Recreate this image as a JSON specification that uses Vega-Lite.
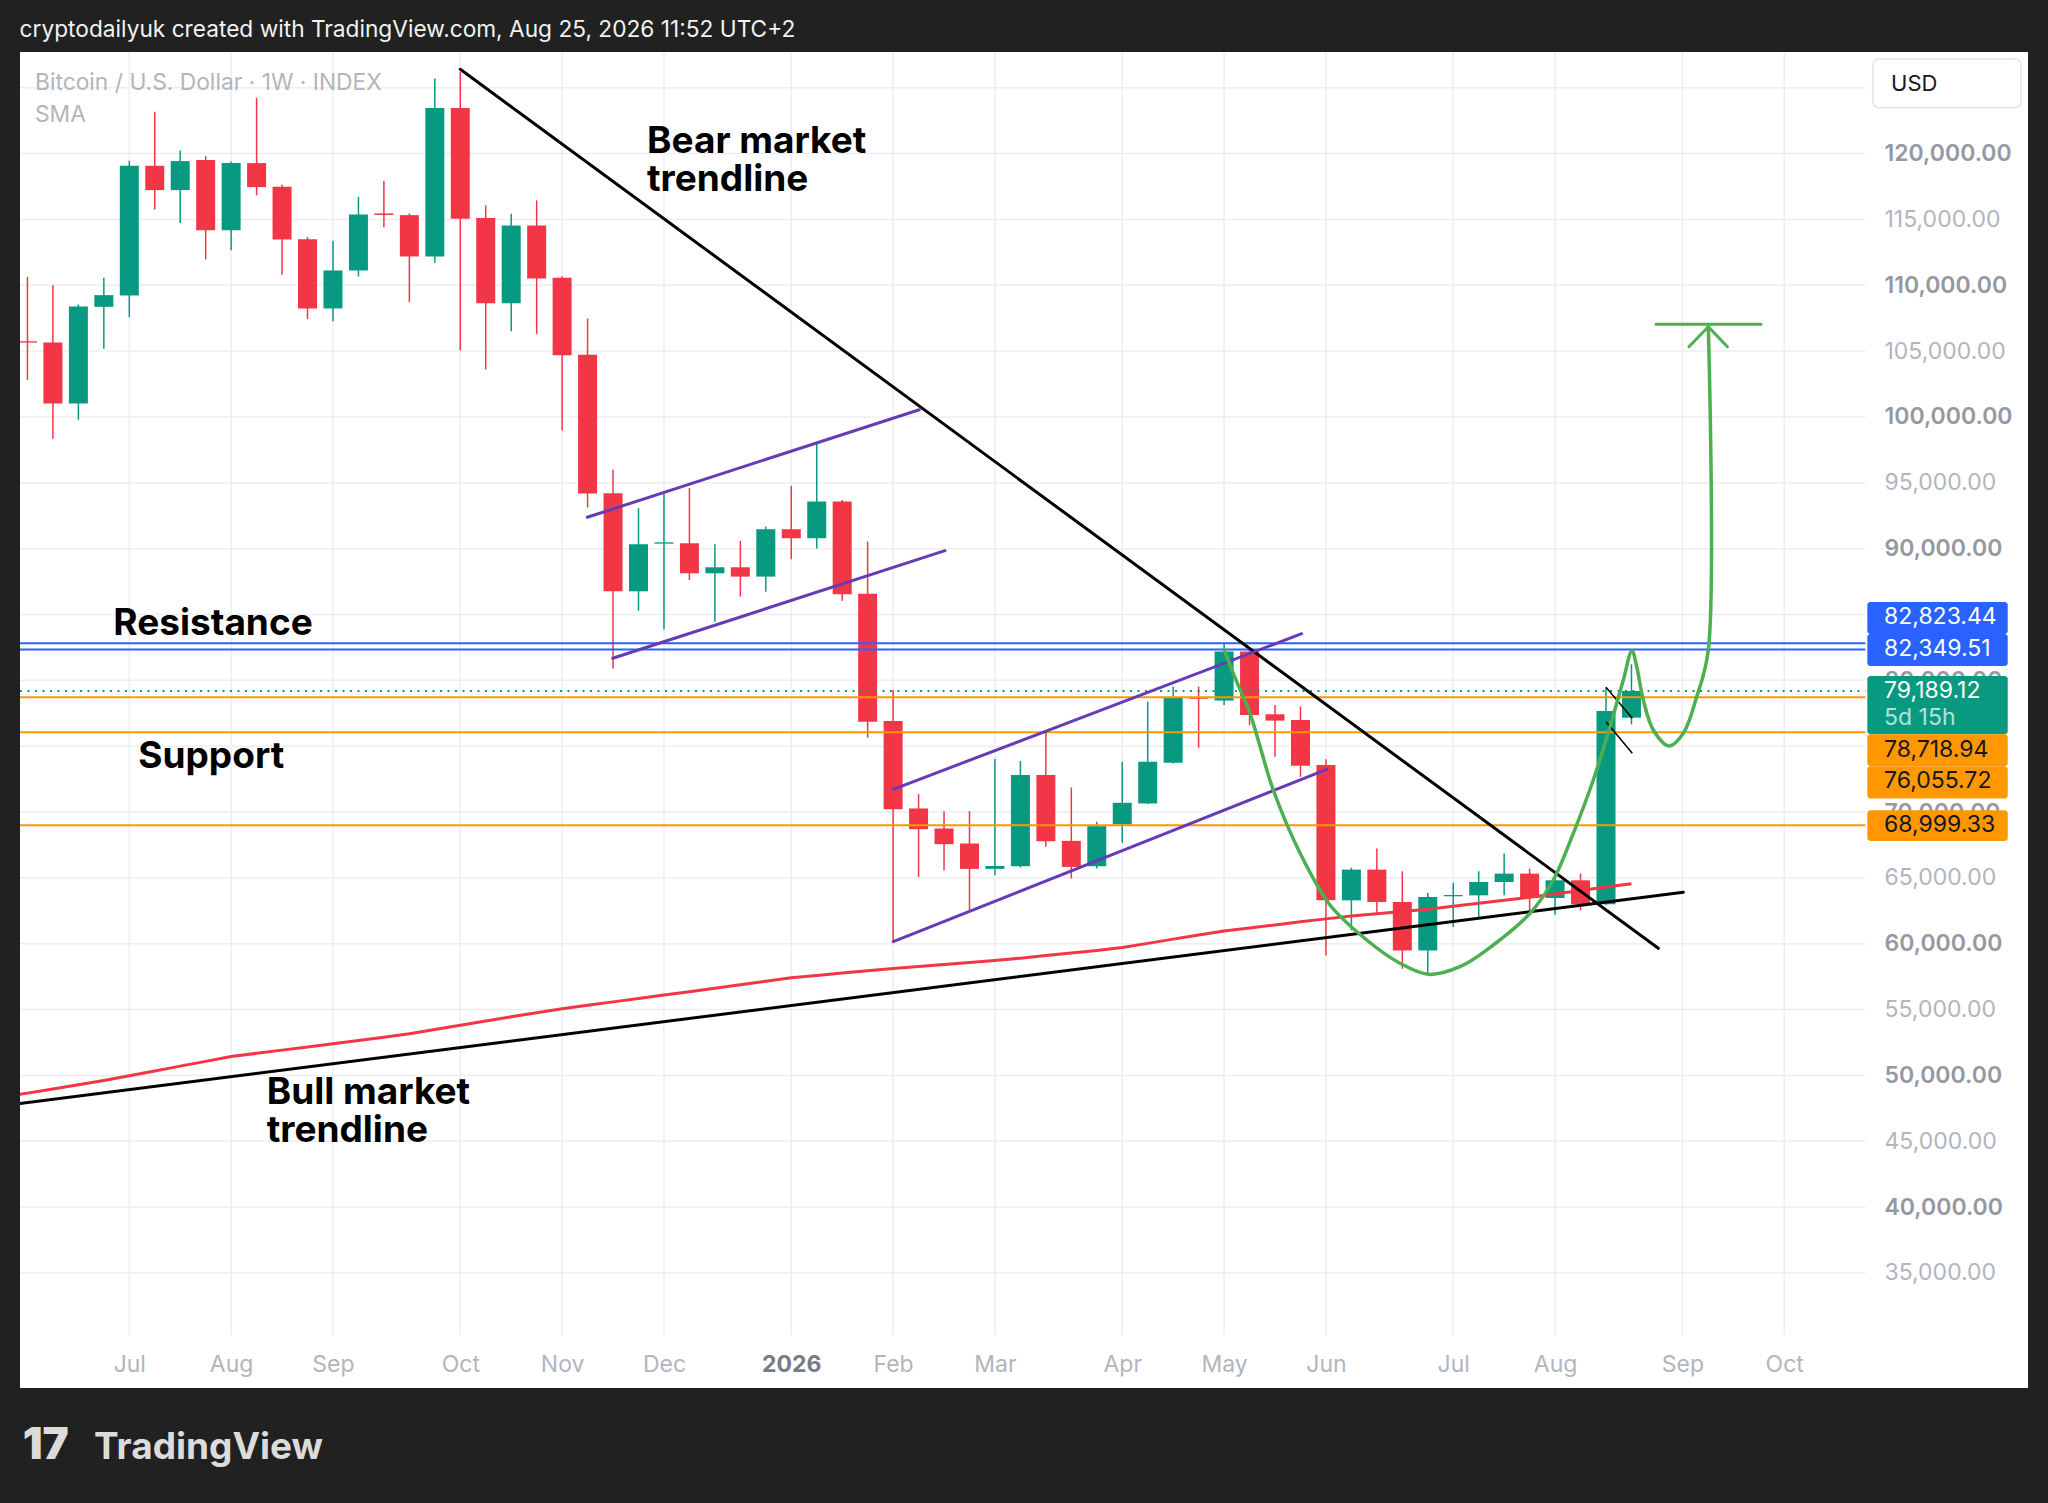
{
  "$schema": "https://vega.github.io/schema/vega-lite/v6.json",
  "width": 2008,
  "height": 1336,
  "autosize": {"type": "none"},
  "padding": {"left": 20, "top": 52, "right": 20, "bottom": 115},
  "background": "#ffffff",
  "config": {
    "view": {"stroke": null},
    "font": "Inter",
    "text": {"font": "Inter"}
  },
  "resolve": {"scale": {"color": "independent"}},
  "datasets": {
    "candles": [
      {"t": "2025-06-09T00:00:00Z", "o": 105750, "h": 110640, "l": 102800, "c": 105650},
      {"t": "2025-06-16T00:00:00Z", "o": 105656, "h": 109998, "l": 98338, "c": 101022},
      {"t": "2025-06-23T00:00:00Z", "o": 101022, "h": 108540, "l": 99781, "c": 108390},
      {"t": "2025-06-30T00:00:00Z", "o": 108365, "h": 110568, "l": 105174, "c": 109251},
      {"t": "2025-07-07T00:00:00Z", "o": 109226, "h": 119455, "l": 107580, "c": 119075},
      {"t": "2025-07-14T00:00:00Z", "o": 119075, "h": 123177, "l": 115758, "c": 117227},
      {"t": "2025-07-21T00:00:00Z", "o": 117227, "h": 120240, "l": 114720, "c": 119430},
      {"t": "2025-07-28T00:00:00Z", "o": 119506, "h": 119809, "l": 111960, "c": 114188},
      {"t": "2025-08-04T00:00:00Z", "o": 114188, "h": 119400, "l": 112669, "c": 119278},
      {"t": "2025-08-11T00:00:00Z", "o": 119278, "h": 124240, "l": 116822, "c": 117455},
      {"t": "2025-08-18T00:00:00Z", "o": 117480, "h": 117632, "l": 110796, "c": 113479},
      {"t": "2025-08-25T00:00:00Z", "o": 113504, "h": 113657, "l": 107428, "c": 108238},
      {"t": "2025-09-01T00:00:00Z", "o": 108238, "h": 113378, "l": 107276, "c": 111125},
      {"t": "2025-09-08T00:00:00Z", "o": 111125, "h": 116720, "l": 110669, "c": 115378},
      {"t": "2025-09-15T00:00:00Z", "o": 115454, "h": 117910, "l": 114416, "c": 115340},
      {"t": "2025-09-22T00:00:00Z", "o": 115327, "h": 115454, "l": 108719, "c": 112188},
      {"t": "2025-09-29T00:00:00Z", "o": 112188, "h": 125709, "l": 111707, "c": 123455},
      {"t": "2025-10-06T00:00:00Z", "o": 123455, "h": 126200, "l": 105048, "c": 115049},
      {"t": "2025-10-13T00:00:00Z", "o": 115100, "h": 116062, "l": 103605, "c": 108643},
      {"t": "2025-10-20T00:00:00Z", "o": 108637, "h": 115431, "l": 106508, "c": 114544},
      {"t": "2025-10-27T00:00:00Z", "o": 114544, "h": 116445, "l": 106305, "c": 110513},
      {"t": "2025-11-03T00:00:00Z", "o": 110563, "h": 110690, "l": 98979, "c": 104682},
      {"t": "2025-11-10T00:00:00Z", "o": 104733, "h": 107471, "l": 93123, "c": 94188},
      {"t": "2025-11-17T00:00:00Z", "o": 94213, "h": 95988, "l": 80900, "c": 86760},
      {"t": "2025-11-24T00:00:00Z", "o": 86760, "h": 93072, "l": 85290, "c": 90334},
      {"t": "2025-12-01T00:00:00Z", "o": 90380, "h": 94213, "l": 83870, "c": 90480},
      {"t": "2025-12-08T00:00:00Z", "o": 90410, "h": 94593, "l": 87622, "c": 88129},
      {"t": "2025-12-15T00:00:00Z", "o": 88129, "h": 90334, "l": 84453, "c": 88586},
      {"t": "2025-12-22T00:00:00Z", "o": 88586, "h": 90588, "l": 86354, "c": 87876},
      {"t": "2025-12-29T00:00:00Z", "o": 87876, "h": 91678, "l": 86734, "c": 91475},
      {"t": "2026-01-05T00:00:00Z", "o": 91475, "h": 94771, "l": 89194, "c": 90791},
      {"t": "2026-01-12T00:00:00Z", "o": 90791, "h": 98016, "l": 90005, "c": 93579},
      {"t": "2026-01-19T00:00:00Z", "o": 93579, "h": 93700, "l": 86050, "c": 86532},
      {"t": "2026-01-26T00:00:00Z", "o": 86583, "h": 90537, "l": 75646, "c": 76864},
      {"t": "2026-02-02T00:00:00Z", "o": 76914, "h": 79273, "l": 60126, "c": 70219},
      {"t": "2026-02-09T00:00:00Z", "o": 70270, "h": 71360, "l": 65071, "c": 68698},
      {"t": "2026-02-16T00:00:00Z", "o": 68749, "h": 70067, "l": 65578, "c": 67556},
      {"t": "2026-02-23T00:00:00Z", "o": 67607, "h": 70067, "l": 62535, "c": 65680},
      {"t": "2026-03-02T00:00:00Z", "o": 65680, "h": 74023, "l": 65198, "c": 65900},
      {"t": "2026-03-09T00:00:00Z", "o": 65883, "h": 73871, "l": 65781, "c": 72806},
      {"t": "2026-03-16T00:00:00Z", "o": 72806, "h": 76103, "l": 67354, "c": 67785},
      {"t": "2026-03-23T00:00:00Z", "o": 67810, "h": 71867, "l": 64945, "c": 65832},
      {"t": "2026-03-30T00:00:00Z", "o": 65883, "h": 69256, "l": 65705, "c": 68926},
      {"t": "2026-04-06T00:00:00Z", "o": 69053, "h": 73820, "l": 67658, "c": 70701},
      {"t": "2026-04-13T00:00:00Z", "o": 70650, "h": 78385, "l": 70599, "c": 73820},
      {"t": "2026-04-20T00:00:00Z", "o": 73744, "h": 79526, "l": 73693, "c": 78715},
      {"t": "2026-04-27T00:00:00Z", "o": 78715, "h": 79526, "l": 74885, "c": 78600},
      {"t": "2026-05-04T00:00:00Z", "o": 78461, "h": 82823, "l": 78131, "c": 82189},
      {"t": "2026-05-11T00:00:00Z", "o": 82189, "h": 82367, "l": 76610, "c": 77371},
      {"t": "2026-05-18T00:00:00Z", "o": 77422, "h": 78131, "l": 74201, "c": 76940},
      {"t": "2026-05-25T00:00:00Z", "o": 76990, "h": 78005, "l": 72679, "c": 73516},
      {"t": "2026-06-01T00:00:00Z", "o": 73563, "h": 73998, "l": 59107, "c": 63292},
      {"t": "2026-06-08T00:00:00Z", "o": 63292, "h": 65777, "l": 61010, "c": 65625},
      {"t": "2026-06-15T00:00:00Z", "o": 65625, "h": 67223, "l": 62278, "c": 63165},
      {"t": "2026-06-22T00:00:00Z", "o": 63165, "h": 65498, "l": 58093, "c": 59488},
      {"t": "2026-06-29T00:00:00Z", "o": 59488, "h": 63875, "l": 57712, "c": 63545},
      {"t": "2026-07-06T00:00:00Z", "o": 63600, "h": 64636, "l": 61263, "c": 63700},
      {"t": "2026-07-13T00:00:00Z", "o": 63672, "h": 65498, "l": 61897, "c": 64687},
      {"t": "2026-07-20T00:00:00Z", "o": 64687, "h": 66842, "l": 63672, "c": 65321},
      {"t": "2026-07-27T00:00:00Z", "o": 65321, "h": 65701, "l": 62531, "c": 63469},
      {"t": "2026-08-03T00:00:00Z", "o": 63469, "h": 65321, "l": 62201, "c": 64814},
      {"t": "2026-08-10T00:00:00Z", "o": 64814, "h": 65321, "l": 62531, "c": 62988},
      {"t": "2026-08-17T00:00:00Z", "o": 62988, "h": 79472, "l": 62912, "c": 77671},
      {"t": "2026-08-24T00:00:00Z", "o": 77164, "h": 81221, "l": 76657, "c": 79189.12}
    ],
    "sma": [
      {"t": "2025-06-02T00:00:00Z", "v": 48334},
      {"t": "2025-06-09T00:00:00Z", "v": 48653},
      {"t": "2025-06-16T00:00:00Z", "v": 48970},
      {"t": "2025-06-23T00:00:00Z", "v": 49290},
      {"t": "2025-06-30T00:00:00Z", "v": 49614},
      {"t": "2025-07-07T00:00:00Z", "v": 49977},
      {"t": "2025-07-14T00:00:00Z", "v": 50340},
      {"t": "2025-07-21T00:00:00Z", "v": 50702},
      {"t": "2025-07-28T00:00:00Z", "v": 51065},
      {"t": "2025-08-04T00:00:00Z", "v": 51427},
      {"t": "2025-08-11T00:00:00Z", "v": 51678},
      {"t": "2025-08-18T00:00:00Z", "v": 51918},
      {"t": "2025-08-25T00:00:00Z", "v": 52157},
      {"t": "2025-09-01T00:00:00Z", "v": 52397},
      {"t": "2025-09-08T00:00:00Z", "v": 52649},
      {"t": "2025-09-15T00:00:00Z", "v": 52901},
      {"t": "2025-09-22T00:00:00Z", "v": 53154},
      {"t": "2025-09-29T00:00:00Z", "v": 53480},
      {"t": "2025-10-06T00:00:00Z", "v": 53810},
      {"t": "2025-10-13T00:00:00Z", "v": 54134},
      {"t": "2025-10-20T00:00:00Z", "v": 54445},
      {"t": "2025-10-27T00:00:00Z", "v": 54756},
      {"t": "2025-11-03T00:00:00Z", "v": 55066},
      {"t": "2025-11-10T00:00:00Z", "v": 55325},
      {"t": "2025-11-17T00:00:00Z", "v": 55582},
      {"t": "2025-11-24T00:00:00Z", "v": 55840},
      {"t": "2025-12-01T00:00:00Z", "v": 56096},
      {"t": "2025-12-08T00:00:00Z", "v": 56350},
      {"t": "2025-12-15T00:00:00Z", "v": 56613},
      {"t": "2025-12-22T00:00:00Z", "v": 56878},
      {"t": "2025-12-29T00:00:00Z", "v": 57144},
      {"t": "2026-01-05T00:00:00Z", "v": 57410},
      {"t": "2026-01-12T00:00:00Z", "v": 57594},
      {"t": "2026-01-19T00:00:00Z", "v": 57768},
      {"t": "2026-01-26T00:00:00Z", "v": 57942},
      {"t": "2026-02-02T00:00:00Z", "v": 58116},
      {"t": "2026-02-09T00:00:00Z", "v": 58266},
      {"t": "2026-02-16T00:00:00Z", "v": 58417},
      {"t": "2026-02-23T00:00:00Z", "v": 58567},
      {"t": "2026-03-02T00:00:00Z", "v": 58718},
      {"t": "2026-03-09T00:00:00Z", "v": 58903},
      {"t": "2026-03-16T00:00:00Z", "v": 59097},
      {"t": "2026-03-23T00:00:00Z", "v": 59291},
      {"t": "2026-03-30T00:00:00Z", "v": 59484},
      {"t": "2026-04-06T00:00:00Z", "v": 59705},
      {"t": "2026-04-13T00:00:00Z", "v": 60026},
      {"t": "2026-04-20T00:00:00Z", "v": 60347},
      {"t": "2026-04-27T00:00:00Z", "v": 60668},
      {"t": "2026-05-04T00:00:00Z", "v": 60964},
      {"t": "2026-05-11T00:00:00Z", "v": 61196},
      {"t": "2026-05-18T00:00:00Z", "v": 61428},
      {"t": "2026-05-25T00:00:00Z", "v": 61660},
      {"t": "2026-06-01T00:00:00Z", "v": 61885},
      {"t": "2026-06-08T00:00:00Z", "v": 62110},
      {"t": "2026-06-15T00:00:00Z", "v": 62274},
      {"t": "2026-06-22T00:00:00Z", "v": 62449},
      {"t": "2026-06-29T00:00:00Z", "v": 62624},
      {"t": "2026-07-06T00:00:00Z", "v": 62846},
      {"t": "2026-07-13T00:00:00Z", "v": 63071},
      {"t": "2026-07-20T00:00:00Z", "v": 63296},
      {"t": "2026-07-27T00:00:00Z", "v": 63520},
      {"t": "2026-08-03T00:00:00Z", "v": 63775},
      {"t": "2026-08-10T00:00:00Z", "v": 64037},
      {"t": "2026-08-17T00:00:00Z", "v": 64299},
      {"t": "2026-08-24T00:00:00Z", "v": 64560}
    ]
  },
  "layer": [
    {
      "data": {
        "values": [
          {"v": 35000}, {"v": 40000}, {"v": 45000}, {"v": 50000}, {"v": 55000}, {"v": 60000}, {"v": 65000},
          {"v": 70000}, {"v": 75000}, {"v": 80000}, {"v": 85000}, {"v": 90000}, {"v": 95000}, {"v": 100000},
          {"v": 105000}, {"v": 110000}, {"v": 115000}, {"v": 120000}, {"v": 125000}
        ]
      },
      "mark": {"type": "rule", "color": "#eceef2", "strokeWidth": 1.5},
      "encoding": {
        "x": {"datum": {"year": 2025, "month": 6, "date": 6, "hours": 22, "minutes": 48, "utc": true}, "type": "temporal"},
        "x2": {"datum": {"year": 2026, "month": 10, "date": 27, "hours": 7, "minutes": 41, "utc": true}},
        "y": {"field": "v", "type": "quantitative"}
      }
    },
    {
      "data": {
        "values": [
          {"m": "2025-07-07T00:00:00Z"}, {"m": "2025-08-04T00:00:00Z"}, {"m": "2025-09-01T00:00:00Z"},
          {"m": "2025-10-06T00:00:00Z"}, {"m": "2025-11-03T00:00:00Z"}, {"m": "2025-12-01T00:00:00Z"},
          {"m": "2026-01-05T00:00:00Z"}, {"m": "2026-02-02T00:00:00Z"}, {"m": "2026-03-02T00:00:00Z"},
          {"m": "2026-04-06T00:00:00Z"}, {"m": "2026-05-04T00:00:00Z"}, {"m": "2026-06-01T00:00:00Z"},
          {"m": "2026-07-06T00:00:00Z"}, {"m": "2026-08-03T00:00:00Z"}, {"m": "2026-09-07T00:00:00Z"},
          {"m": "2026-10-05T00:00:00Z"}
        ]
      },
      "mark": {"type": "rule", "color": "#eceef2", "strokeWidth": 1.5},
      "encoding": {
        "x": {"field": "m", "type": "temporal"},
        "y": {"datum": 30285, "type": "quantitative"},
        "y2": {"datum": 127715}
      }
    },
    {
      "data": {"name": "candles"},
      "mark": {"type": "rule", "strokeWidth": 1.5},
      "encoding": {
        "x": {
          "field": "t",
          "type": "temporal",
          "scale": {
            "type": "utc",
            "domain": [
              {"year": 2025, "month": 6, "date": 6, "hours": 22, "minutes": 48, "utc": true},
              {"year": 2026, "month": 10, "date": 27, "hours": 7, "minutes": 41, "utc": true}
            ],
            "range": [0, 1845.4]
          },
          "axis": {
            "title": null,
            "values": [
              {"year": 2025, "month": 7, "date": 7, "utc": true},
              {"year": 2025, "month": 8, "date": 4, "utc": true},
              {"year": 2025, "month": 9, "date": 1, "utc": true},
              {"year": 2025, "month": 10, "date": 6, "utc": true},
              {"year": 2025, "month": 11, "date": 3, "utc": true},
              {"year": 2025, "month": 12, "date": 1, "utc": true},
              {"year": 2026, "month": 1, "date": 5, "utc": true},
              {"year": 2026, "month": 2, "date": 2, "utc": true},
              {"year": 2026, "month": 3, "date": 2, "utc": true},
              {"year": 2026, "month": 4, "date": 6, "utc": true},
              {"year": 2026, "month": 5, "date": 4, "utc": true},
              {"year": 2026, "month": 6, "date": 1, "utc": true},
              {"year": 2026, "month": 7, "date": 6, "utc": true},
              {"year": 2026, "month": 8, "date": 3, "utc": true},
              {"year": 2026, "month": 9, "date": 7, "utc": true},
              {"year": 2026, "month": 10, "date": 5, "utc": true}
            ],
            "labelExpr": "utcmonth(datum.value) === 0 ? utcFormat(datum.value, '%Y') : utcFormat(datum.value, '%b')",
            "labelFont": "Inter",
            "labelFontSize": 23,
            "labelColor": {"condition": {"test": "utcmonth(datum.value) === 0", "value": "#787b86"}, "value": "#b2b5be"},
            "labelFontWeight": {"condition": {"test": "utcmonth(datum.value) === 0", "value": "bold"}, "value": "normal"},
            "labelBaseline": "alphabetic",
            "labelAlign": "center",
            "labelPadding": -17,
            "labelOverlap": false,
            "labelFlush": false,
            "ticks": false,
            "tickSize": 0,
            "domain": false,
            "grid": false
          }
        },
        "y": {
          "field": "l",
          "type": "quantitative",
          "scale": {"domain": [30285, 127715], "range": [1283, 0], "nice": false, "zero": false},
          "axis": {
            "orient": "right",
            "title": null,
            "values": [35000, 40000, 45000, 50000, 55000, 60000, 65000, 70000, 80000, 85000, 90000, 95000, 100000, 105000, 110000, 115000, 120000],
            "format": ",.2f",
            "labelFont": "Inter",
            "labelFontSize": 23,
            "labelColor": {"condition": {"test": "datum.value % 10000 === 0", "value": "#9598a1"}, "value": "#b2b5be"},
            "labelFontWeight": {"condition": {"test": "datum.value % 10000 === 0", "value": 600}, "value": "normal"},
            "labelAlign": "left",
            "labelBaseline": "middle",
            "labelPadding": -144,
            "labelOverlap": false,
            "labelBound": false,
            "ticks": false,
            "tickSize": 0,
            "domain": false,
            "grid": false
          }
        },
        "y2": {"field": "h"},
        "color": {"condition": {"test": "datum.c >= datum.o", "value": "#089981"}, "value": "#f23645"}
      }
    },
    {
      "data": {"name": "candles"},
      "mark": {"type": "rule", "strokeWidth": 19, "strokeCap": "butt"},
      "encoding": {
        "x": {"field": "t", "type": "temporal"},
        "y": {"field": "o", "type": "quantitative"},
        "y2": {"field": "c"},
        "color": {"condition": {"test": "datum.c >= datum.o", "value": "#089981"}, "value": "#f23645"}
      }
    },
    {
      "data": {"name": "sma"},
      "mark": {"type": "line", "color": "#f23645", "strokeWidth": 3, "clip": true},
      "encoding": {
        "x": {"field": "t", "type": "temporal"},
        "y": {"field": "v", "type": "quantitative"}
      }
    },
    {
      "data": {
        "values": [
          {"p": 82823.44, "k": "res"},
          {"p": 82349.51, "k": "res"},
          {"p": 78718.94, "k": "sup"},
          {"p": 76055.72, "k": "sup"},
          {"p": 68999.33, "k": "sup"}
        ]
      },
      "mark": {"type": "rule", "strokeWidth": 2},
      "encoding": {
        "x": {"datum": {"year": 2025, "month": 6, "date": 6, "hours": 22, "minutes": 48, "utc": true}, "type": "temporal"},
        "x2": {"datum": {"year": 2026, "month": 10, "date": 27, "hours": 7, "minutes": 41, "utc": true}},
        "y": {"field": "p", "type": "quantitative"},
        "color": {"field": "k", "type": "nominal", "scale": {"domain": ["res", "sup"], "range": ["#2962ff", "#ff9800"]}, "legend": null}
      }
    },
    {
      "data": {"values": [{"p": 79189.12}]},
      "mark": {"type": "rule", "strokeWidth": 2, "color": "#089981", "strokeDash": [2, 5.5]},
      "encoding": {
        "x": {"datum": {"year": 2025, "month": 6, "date": 6, "hours": 22, "minutes": 48, "utc": true}, "type": "temporal"},
        "x2": {"datum": {"year": 2026, "month": 10, "date": 27, "hours": 7, "minutes": 41, "utc": true}},
        "y": {"field": "p", "type": "quantitative"}
      }
    },
    {
      "data": {
        "values": [
          {"g": "bull", "t1": "2025-06-06T20:10:00Z", "p1": 47864, "t2": "2026-09-07T06:14:00Z", "p2": 63911},
          {"g": "bear", "t1": "2025-10-06T00:00:00Z", "p1": 126400, "t2": "2026-08-31T09:07:00Z", "p2": 59651},
          {"g": "channel", "t1": "2025-11-09T22:05:00Z", "p1": 92381, "t2": "2026-02-09T04:48:00Z", "p2": 100550},
          {"g": "channel", "t1": "2025-11-16T21:36:00Z", "p1": 81673, "t2": "2026-02-16T06:29:00Z", "p2": 89845},
          {"g": "channel", "t1": "2026-02-02T01:12:00Z", "p1": 71725, "t2": "2026-05-25T08:10:00Z", "p2": 83542},
          {"g": "channel", "t1": "2026-02-02T01:12:00Z", "p1": 60152, "t2": "2026-06-01T05:02:00Z", "p2": 73243},
          {"g": "target", "t1": "2026-09-14T03:07:00Z", "p1": 106855, "t2": "2026-09-08T19:12:00Z", "p2": 105336},
          {"g": "target", "t1": "2026-09-14T03:07:00Z", "p1": 106855, "t2": "2026-09-19T09:07:00Z", "p2": 105336},
          {"g": "target", "t1": "2026-08-30T18:00:00Z", "p1": 107037, "t2": "2026-09-28T14:53:00Z", "p2": 107037}
        ]
      },
      "mark": {"type": "rule", "strokeWidth": 3, "strokeCap": "round", "clip": true},
      "encoding": {
        "x": {"field": "t1", "type": "temporal"},
        "x2": {"field": "t2"},
        "y": {"field": "p1", "type": "quantitative"},
        "y2": {"field": "p2"},
        "color": {
          "field": "g",
          "type": "nominal",
          "scale": {"domain": ["bull", "bear", "channel", "target"], "range": ["#000000", "#000000", "#673ab7", "#4caf50"]},
          "legend": null
        }
      }
    },
    {
      "data": {
        "values": [
          {"t1": "2026-08-17T00:00:00Z", "p1": 79471, "t2": "2026-08-24T05:31:00Z", "p2": 77117},
          {"t1": "2026-08-17T00:00:00Z", "p1": 76858, "t2": "2026-08-24T05:31:00Z", "p2": 74459}
        ]
      },
      "mark": {"type": "rule", "strokeWidth": 1.5, "color": "#000000"},
      "encoding": {
        "x": {"field": "t1", "type": "temporal"},
        "x2": {"field": "t2"},
        "y": {"field": "p1", "type": "quantitative"},
        "y2": {"field": "p2"}
      }
    },
    {
      "data": {
        "values": [
          {"i": 1, "t": "2026-05-04T01:26:00Z", "p": 82303},
          {"i": 2, "t": "2026-05-07T06:43:00Z", "p": 80025},
          {"i": 3, "t": "2026-05-11T02:53:00Z", "p": 77496},
          {"i": 4, "t": "2026-05-17T12:43:00Z", "p": 71672},
          {"i": 5, "t": "2026-05-24T20:53:00Z", "p": 66889},
          {"i": 6, "t": "2026-06-02T02:53:00Z", "p": 62939},
          {"i": 7, "t": "2026-06-12T05:02:00Z", "p": 60281},
          {"i": 8, "t": "2026-06-21T08:53:00Z", "p": 58511},
          {"i": 9, "t": "2026-06-29T03:36:00Z", "p": 57676},
          {"i": 10, "t": "2026-07-07T20:38:00Z", "p": 58253},
          {"i": 11, "t": "2026-07-17T00:29:00Z", "p": 59901},
          {"i": 12, "t": "2026-07-27T02:38:00Z", "p": 62309},
          {"i": 13, "t": "2026-08-02T12:14:00Z", "p": 64838},
          {"i": 14, "t": "2026-08-08T00:14:00Z", "p": 68384},
          {"i": 15, "t": "2026-08-13T12:14:00Z", "p": 72431},
          {"i": 16, "t": "2026-08-18T02:24:00Z", "p": 76478},
          {"i": 17, "t": "2026-08-21T18:14:00Z", "p": 80025},
          {"i": 18, "t": "2026-08-24T03:36:00Z", "p": 82250},
          {"i": 19, "t": "2026-08-25T10:34:00Z", "p": 81035},
          {"i": 20, "t": "2026-08-27T06:14:00Z", "p": 78506},
          {"i": 21, "t": "2026-08-30T00:14:00Z", "p": 76228},
          {"i": 22, "t": "2026-09-03T09:50:00Z", "p": 75013},
          {"i": 23, "t": "2026-09-07T06:14:00Z", "p": 75978},
          {"i": 24, "t": "2026-09-10T22:34:00Z", "p": 78757},
          {"i": 25, "t": "2026-09-14T03:07:00Z", "p": 82303},
          {"i": 26, "t": "2026-09-14T03:07:00Z", "p": 106855}
        ]
      },
      "mark": {"type": "line", "color": "#4caf50", "strokeWidth": 3.5, "strokeCap": "round", "strokeJoin": "round", "interpolate": "catmull-rom"},
      "encoding": {
        "x": {"field": "t", "type": "temporal"},
        "y": {"field": "p", "type": "quantitative"},
        "order": {"field": "i", "type": "quantitative"}
      }
    },
    {
      "data": {
        "values": [
          {"txt": ["Bear market", "trendline"], "t": "2025-11-26T08:10:00Z", "p": 120023},
          {"txt": ["Resistance"], "t": "2025-07-02T14:24:00Z", "p": 83473},
          {"txt": ["Support"], "t": "2025-07-09T11:17:00Z", "p": 73380},
          {"txt": ["Bull market", "trendline"], "t": "2025-08-13T18:43:00Z", "p": 47804}
        ]
      },
      "mark": {"type": "text", "font": "Inter", "fontSize": 37, "fontWeight": "bold", "color": "#000000", "align": "left", "baseline": "alphabetic", "lineHeight": 37.5},
      "encoding": {
        "x": {"field": "t", "type": "temporal"},
        "y": {"field": "p", "type": "quantitative"},
        "text": {"field": "txt"}
      }
    },
    {
      "data": {
        "values": [
          {"txt": ["Bitcoin / U.S. Dollar · 1W · INDEX", "SMA"], "t": "2025-06-11T01:41:00Z", "p": 124830}
        ]
      },
      "mark": {"type": "text", "font": "Inter", "fontSize": 22.8, "color": "#b2b5be", "align": "left", "baseline": "alphabetic", "lineHeight": 31.7},
      "encoding": {
        "x": {"field": "t", "type": "temporal"},
        "y": {"field": "p", "type": "quantitative"},
        "text": {"field": "txt"}
      }
    },
    {
      "data": {
        "values": [
          {"k": "res", "top": 85953, "bot": 83523},
          {"k": "res", "top": 83523, "bot": 81093},
          {"k": "last", "top": 80334, "bot": 75907},
          {"k": "sup", "top": 75907, "bot": 73478},
          {"k": "sup", "top": 73478, "bot": 71025},
          {"k": "sup", "top": 70137, "bot": 67806}
        ]
      },
      "mark": {"type": "rect", "cornerRadius": 3},
      "encoding": {
        "x": {"datum": {"year": 2026, "month": 10, "date": 27, "hours": 20, "minutes": 24, "utc": true}, "type": "temporal"},
        "x2": {"datum": {"year": 2026, "month": 12, "date": 5, "hours": 10, "minutes": 48, "utc": true}},
        "y": {"field": "top", "type": "quantitative"},
        "y2": {"field": "bot"},
        "color": {"field": "k", "type": "nominal", "scale": {"domain": ["res", "last", "sup"], "range": ["#2962ff", "#089981", "#ff9800"]}, "legend": null}
      }
    },
    {
      "data": {
        "values": [
          {"k": "res", "label": "82,823.44", "ty": 84814},
          {"k": "res", "label": "82,349.51", "ty": 82415},
          {"k": "last", "label": "79,189.12", "ty": 79172},
          {"k": "sup", "label": "78,718.94", "ty": 74693},
          {"k": "sup", "label": "76,055.72", "ty": 72339},
          {"k": "sup", "label": "68,999.33", "ty": 69051}
        ]
      },
      "mark": {"type": "text", "font": "Inter", "fontSize": 23, "align": "left", "baseline": "middle"},
      "encoding": {
        "x": {"datum": {"year": 2026, "month": 11, "date": 1, "hours": 10, "minutes": 34, "utc": true}, "type": "temporal"},
        "y": {"field": "ty", "type": "quantitative"},
        "text": {"field": "label"},
        "color": {"field": "k", "type": "nominal", "scale": {"domain": ["res", "last", "sup"], "range": ["#ffffff", "#ffffff", "#131722"]}, "legend": null}
      }
    },
    {
      "data": {"values": [{"label": "5d 15h", "ty": 77145}]},
      "mark": {"type": "text", "font": "Inter", "fontSize": 23, "align": "left", "baseline": "middle", "color": "#ffffff", "opacity": 0.7},
      "encoding": {
        "x": {"datum": {"year": 2026, "month": 11, "date": 1, "hours": 10, "minutes": 34, "utc": true}, "type": "temporal"},
        "y": {"field": "ty", "type": "quantitative"},
        "text": {"field": "label"}
      }
    },
    {
      "data": {"values": [{"top": 127184, "bot": 123486}]},
      "mark": {"type": "rect", "fill": "#ffffff", "stroke": "#e0e3eb", "strokeWidth": 1.5, "cornerRadius": 6},
      "encoding": {
        "x": {"datum": {"year": 2026, "month": 10, "date": 29, "hours": 9, "minutes": 50, "utc": true}, "type": "temporal"},
        "x2": {"datum": {"year": 2026, "month": 12, "date": 9, "hours": 2, "minutes": 24, "utc": true}},
        "y": {"field": "top", "type": "quantitative"},
        "y2": {"field": "bot"}
      }
    },
    {
      "data": {"values": [{"txt": "USD", "p": 124777}]},
      "mark": {"type": "text", "font": "Inter", "fontSize": 22, "color": "#131722", "align": "left", "baseline": "alphabetic"},
      "encoding": {
        "x": {"datum": {"year": 2026, "month": 11, "date": 3, "hours": 8, "minutes": 53, "utc": true}, "type": "temporal"},
        "y": {"field": "p", "type": "quantitative"},
        "text": {"field": "txt"}
      }
    },
    {
      "data": {
        "values": [
          {"t1": "2025-05-25T00:00:00Z", "t2": "2026-12-25T00:00:00Z", "top": 135000, "bot": 127715},
          {"t1": "2025-05-25T00:00:00Z", "t2": "2026-12-25T00:00:00Z", "top": 26260, "bot": 14000},
          {"t1": "2025-05-25T00:00:00Z", "t2": "2025-06-06T22:48:00Z", "top": 135000, "bot": 14000},
          {"t1": "2026-12-11T00:43:00Z", "t2": "2026-12-25T00:00:00Z", "top": 135000, "bot": 14000}
        ]
      },
      "mark": {"type": "rect", "color": "#212121"},
      "encoding": {
        "x": {"field": "t1", "type": "temporal"},
        "x2": {"field": "t2"},
        "y": {"field": "top", "type": "quantitative"},
        "y2": {"field": "bot"}
      }
    },
    {
      "data": {"values": [{"txt": "cryptodailyuk created with TradingView.com, Aug 25, 2026 11:52 UTC+2", "t": "2025-06-06T20:10:00Z", "p": 128832}]},
      "mark": {"type": "text", "font": "Inter", "fontSize": 22.7, "color": "#f2f2f2", "align": "left", "baseline": "alphabetic"},
      "encoding": {
        "x": {"field": "t", "type": "temporal"},
        "y": {"field": "p", "type": "quantitative"},
        "text": {"field": "txt"}
      }
    },
    {
      "data": {"values": [{"txt": "TradingView", "t": "2025-06-27T07:00:00Z", "p": 20869}]},
      "mark": {"type": "text", "font": "Inter", "fontSize": 37, "fontWeight": "bold", "color": "#dcdcdc", "align": "left", "baseline": "alphabetic"},
      "encoding": {
        "x": {"field": "t", "type": "temporal"},
        "y": {"field": "p", "type": "quantitative"},
        "text": {"field": "txt"}
      }
    },
    {
      "data": {"values": [{"txt": "17", "t": "2025-06-07T16:34:00Z", "p": 20869}]},
      "mark": {"type": "text", "font": "Inter", "fontSize": 44, "fontWeight": 900, "color": "#dcdcdc", "align": "left", "baseline": "alphabetic"},
      "encoding": {
        "x": {"field": "t", "type": "temporal"},
        "y": {"field": "p", "type": "quantitative"},
        "text": {"field": "txt"}
      }
    }
  ]
}
